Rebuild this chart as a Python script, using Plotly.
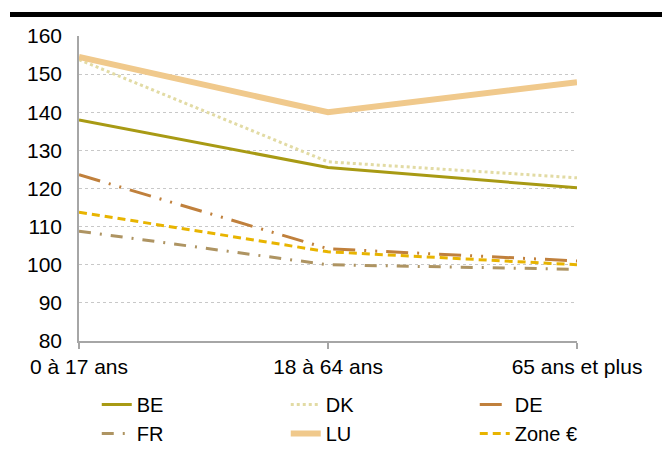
import plotly.graph_objects as go

categories = ["0 à 17 ans", "18 à 64 ans", "65 ans et plus"]
series_names = ["BE", "DK", "DE", "FR", "LU", "Zone €"]
BE = [138.0, 125.5, 120.2]
DK = [153.8, 127.0, 122.8]
DE = [123.6, 104.2, 101.0]
FR = [108.8, 100.0, 98.8]
LU = [154.5, 140.0, 147.9]
EA = [113.8, 103.4, 100.0]
yticks = [80, 90, 100, 110, 120, 130, 140, 150, 160]

styles = {
    "BE": dict(color="#A89A14", width=3, dash="solid"),
    "DK": dict(color="#E2DBA4", width=3, dash="dot"),
    "DE": dict(color="#C0803C", width=3, dash="22px,9px,2px,9px,2px,9px"),
    "FR": dict(color="#AE9462", width=3, dash="12px,9px,2px,9px"),
    "LU": dict(color="#F0C98C", width=6, dash="solid"),
    "Zone €": dict(color="#E8B400", width=3, dash="8px,5px"),
}
data = {"BE": BE, "DK": DK, "DE": DE, "FR": FR, "LU": LU, "Zone €": EA}

x = list(range(len(categories)))
fig = go.Figure()
for name in series_names:
    fig.add_trace(go.Scatter(x=x, y=data[name], mode="lines", name=name,
                             line=styles[name]))

# page body has an 8px default margin: work in screen pixels, shift by OFF
OFF = 8
W, H = 670, 452
L, R, T, B = 79 - OFF, 93 + OFF, 36 - OFF, 111 + OFF
pw, ph = W - L - R, H - T - B

def px_x(p):  # screen px -> paper
    return (p - OFF - L) / pw

def px_y(p):
    return (H - B - (p - OFF)) / ph

fig.add_shape(type="line", xref="paper", yref="paper",
              x0=px_x(10), x1=px_x(680), y0=px_y(14.5), y1=px_y(14.5),
              line=dict(color="black", width=5))

fig.update_layout(
    width=W, height=H,
    margin=dict(l=L, r=R, t=T, b=B, autoexpand=False),
    paper_bgcolor="white", plot_bgcolor="white",
    font=dict(family="Liberation Sans, Arial, sans-serif", size=21, color="black"),
    xaxis=dict(range=[0, 2], tickvals=x, ticktext=categories,
               showgrid=False, showline=True, linecolor="#A6A6A6", linewidth=1.5,
               ticks="outside", ticklen=6, tickcolor="#A6A6A6", tickwidth=1.5,
               tickfont=dict(size=21), zeroline=False, automargin=False),
    yaxis=dict(range=[80, 160], tickvals=yticks, showgrid=True,
               gridcolor="#C8C8C8", griddash="dot", gridwidth=1,
               showline=True, linecolor="#A6A6A6", linewidth=1.5,
               ticks="", tickfont=dict(size=21), zeroline=False,
               ticklabelstandoff=11, automargin=False),
    legend=dict(orientation="h", x=-0.0005, y=px_y(385), xanchor="left", yanchor="top",
                indentation=18,
                entrywidth=126, entrywidthmode="pixels", font=dict(size=20),
                tracegroupgap=0, bgcolor="rgba(0,0,0,0)"),
    showlegend=True,
)
fig.write_html("out.html")
